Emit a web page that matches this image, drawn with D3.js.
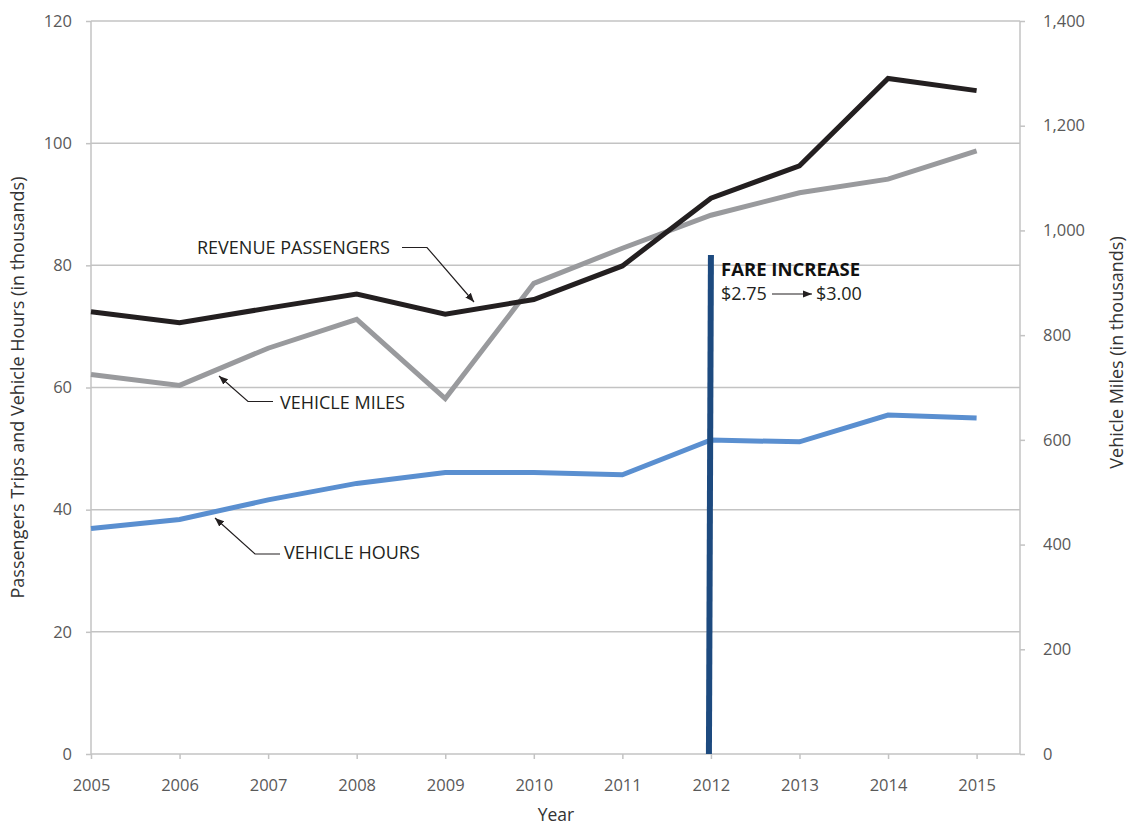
<!DOCTYPE html>
<html>
<head>
<meta charset="utf-8">
<script src="https://cdn.jsdelivr.net/npm/d3@7"></script>
<style>
  body { margin: 0; background: #fff; }
  svg { font-family: "Open Sans", "Noto Sans", sans-serif; }
</style>
</head>
<body>
<svg id="chart" width="1129" height="827"></svg>
<script>
const years = [2005, 2006, 2007, 2008, 2009, 2010, 2011, 2012, 2013, 2014, 2015];
const revenuePassengers = [72.4, 70.6, 73.0, 75.3, 72.0, 74.4, 79.9, 91.0, 96.3, 110.6, 108.6];
const vehicleHours = [36.9, 38.4, 41.6, 44.3, 46.1, 46.1, 45.7, 51.4, 51.1, 55.5, 55.0];
const vehicleMiles = [725, 704, 775, 830, 679, 899, 966, 1029, 1072, 1098, 1152];
const leftTicks = [0, 20, 40, 60, 80, 100, 120];
const rightTicks = [0, 200, 400, 600, 800, 1000, 1200, 1400];
const fareYear = 2012;
const fareTop = 81.7;

const svg = d3.select("#chart");
const L = 91, R = 1020, T = 21, B = 754;

const x = d3.scaleLinear().domain([2005, 2015.49]).range([L, R]);
const yL = d3.scaleLinear().domain([0, 120]).range([B, T]);
const yR = d3.scaleLinear().domain([0, 1400]).range([B, T]);

const gridColor = "#c3c3c3";
const labelColor = "#595959";

// gridlines
svg.append("g").selectAll("line").data(leftTicks.filter(d => d > 0)).join("line")
  .attr("x1", L).attr("x2", R).attr("y1", d => yL(d)).attr("y2", d => yL(d))
  .attr("stroke", gridColor).attr("stroke-width", 1.5);

// left axis
const gLeft = svg.append("g").attr("transform", `translate(${L},0)`)
  .call(d3.axisLeft(yL).tickValues(leftTicks).tickSize(5).tickPadding(14));
// right axis
const gRight = svg.append("g").attr("transform", `translate(${R},0)`)
  .call(d3.axisRight(yR).tickValues(rightTicks).tickSize(5).tickPadding(18).tickFormat(d3.format(",")));
// bottom axis
const gBottom = svg.append("g").attr("transform", `translate(0,${B})`)
  .call(d3.axisBottom(x).tickValues(years).tickSize(5).tickPadding(20).tickFormat(d3.format("d")));

[gLeft, gRight, gBottom].forEach(g => {
  g.select(".domain").attr("stroke", gridColor).attr("stroke-width", 1.5);
  g.selectAll(".tick line").attr("stroke", gridColor).attr("stroke-width", 1.5);
  g.selectAll(".tick text").attr("fill", labelColor).style("font-size", "16.5px")
    .style("font-family", "'Open Sans', 'Noto Sans', sans-serif");
});
gLeft.select(".domain").attr("d", `M0,${B}V${T}`);
gRight.select(".domain").attr("d", `M0,${B}V${T}`);
gBottom.select(".domain").attr("d", `M${L},0H${R}`);

// lines
const lineL = d3.line().x((d, i) => x(years[i])).y(d => yL(d));
const lineR = d3.line().x((d, i) => x(years[i])).y(d => yR(d));

svg.append("path").datum(vehicleHours).attr("d", lineL)
  .attr("fill", "none").attr("stroke", "#5a8fd0").attr("stroke-width", 5);
svg.append("path").datum(vehicleMiles).attr("d", lineR)
  .attr("fill", "none").attr("stroke", "#999a9d").attr("stroke-width", 5);
svg.append("path").datum(revenuePassengers).attr("d", lineL)
  .attr("fill", "none").attr("stroke", "#231f20").attr("stroke-width", 5);

// fare increase bar
svg.append("line")
  .attr("x1", x(fareYear) - 2).attr("x2", x(fareYear))
  .attr("y1", yL(0)).attr("y2", yL(fareTop))
  .attr("stroke", "#1d4a7f").attr("stroke-width", 6);

// arrow marker
const defs = svg.append("defs");
defs.append("marker").attr("id", "arr").attr("viewBox", "0 0 10 10")
  .attr("refX", 10).attr("refY", 5).attr("markerWidth", 9).attr("markerHeight", 9)
  .attr("markerUnits", "userSpaceOnUse").attr("orient", "auto")
  .append("path").attr("d", "M0,1 L10,5 L0,9 z").attr("fill", "#231f20");

const annColor = "#231f20";
const annSize = "18px";
function leader(points) {
  svg.append("path").attr("d", d3.line()(points))
    .attr("fill", "none").attr("stroke", annColor).attr("stroke-width", 1.2)
    .attr("marker-end", "url(#arr)");
}

svg.append("text").attr("x", 197).attr("y", 254).text("REVENUE PASSENGERS")
  .attr("fill", annColor).style("font-size", annSize);
leader([[402, 247.5], [427, 247.5], [474, 302]]);

svg.append("text").attr("x", 280).attr("y", 408.5).text("VEHICLE MILES")
  .attr("fill", annColor).style("font-size", annSize);
leader([[273, 401.5], [248, 401.5], [219, 376]]);

svg.append("text").attr("x", 284).attr("y", 558.5).text("VEHICLE HOURS")
  .attr("fill", annColor).style("font-size", annSize);
leader([[280, 554], [255, 554], [215, 518]]);

// fare increase text
svg.append("text").attr("x", 721).attr("y", 276).text("FARE INCREASE")
  .attr("fill", "#111").style("font-size", "18.5px").style("font-weight", "bold");
svg.append("text").attr("x", 721).attr("y", 300).text("$2.75")
  .attr("fill", annColor).style("font-size", annSize);
svg.append("line").attr("x1", 772).attr("x2", 812).attr("y1", 294).attr("y2", 294)
  .attr("stroke", annColor).attr("stroke-width", 1.2).attr("marker-end", "url(#arr)");
svg.append("text").attr("x", 816).attr("y", 300).text("$3.00")
  .attr("fill", annColor).style("font-size", annSize);

// axis titles
svg.append("text").attr("transform", `translate(24,${(T + B) / 2}) rotate(-90)`)
  .attr("text-anchor", "middle").text("Passengers Trips and Vehicle Hours (in thousands)")
  .attr("fill", "#333").style("font-size", "18px");
svg.append("text").attr("transform", `translate(1123,${(T + B) / 2 - 35}) rotate(-90)`)
  .attr("text-anchor", "middle").text("Vehicle Miles (in thousands)")
  .attr("fill", "#333").style("font-size", "18px");
svg.append("text").attr("x", 556).attr("y", 821).attr("text-anchor", "middle")
  .text("Year").attr("fill", "#333").style("font-size", "17.5px");
</script>
</body>
</html>
